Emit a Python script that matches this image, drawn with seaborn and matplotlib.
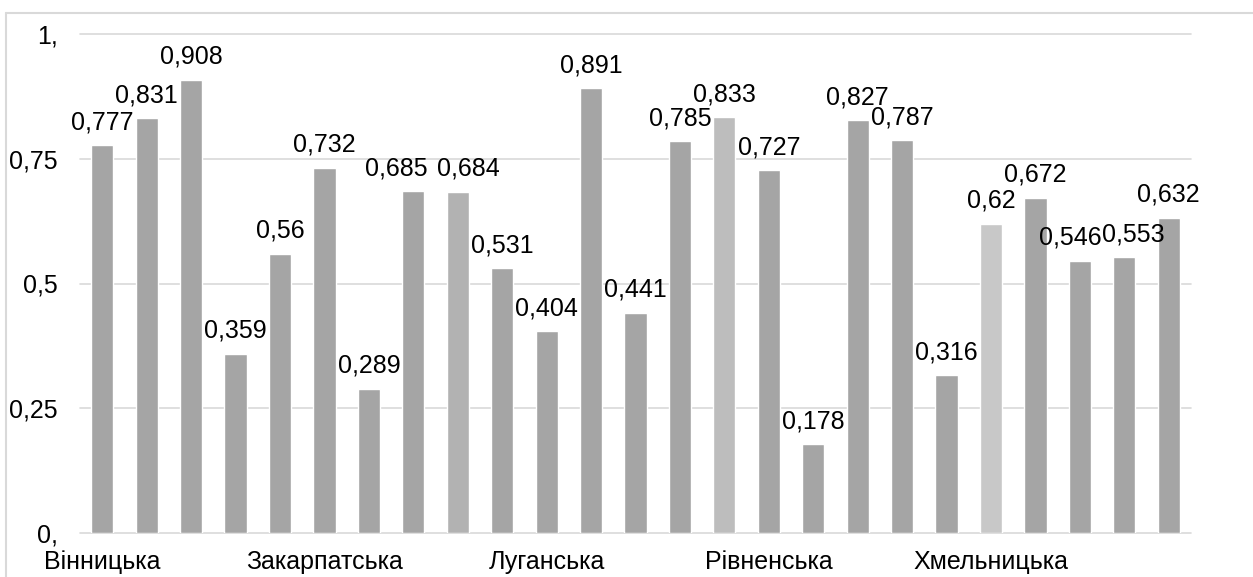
import matplotlib
matplotlib.use("Agg")
import matplotlib.pyplot as plt
import seaborn as sns
import pandas as pd
from matplotlib.lines import Line2D

regions = ["Вінницька", "Волинська", "Дніпропетровська", "Донецька", "Житомирська",
           "Закарпатська", "Запорізька", "Івано-Франківська", "Київська", "Кіровоградська",
           "Луганська", "Львівська", "Миколаївська", "Одеська", "Полтавська",
           "Рівненська", "Сумська", "Тернопільська", "Харківська", "Херсонська",
           "Хмельницька", "Черкаська", "Чернівецька", "Чернігівська", "м. Київ"]
values = [0.777, 0.831, 0.908, 0.359, 0.56, 0.732, 0.289, 0.685, 0.684, 0.531,
          0.404, 0.891, 0.441, 0.785, 0.833, 0.727, 0.178, 0.827, 0.787, 0.316,
          0.62, 0.672, 0.546, 0.553, 0.632]
value_labels = ["0,777", "0,831", "0,908", "0,359", "0,56", "0,732", "0,289", "0,685", "0,684", "0,531",
                "0,404", "0,891", "0,441", "0,785", "0,833", "0,727", "0,178", "0,827", "0,787", "0,316",
                "0,62", "0,672", "0,546", "0,553", "0,632"]
yticks = [0, 0.25, 0.5, 0.75, 1.0]
ytick_labels = ["0,", "0,25", "0,5", "0,75", "1,"]

base = "#A5A5A5"
special = {8: "#B2B2B2", 14: "#BDBDBD", 20: "#C8C8C8"}
colors = [special.get(i, base) for i in range(len(regions))]
label_dx = {7: -12.2, 8: 7.9, 22: -7.2, 23: 6.5}  # points

sns.set_theme(style="white")
plt.rcParams['font.family'] = ['Liberation Sans', 'DejaVu Sans']

df = pd.DataFrame({"region": regions, "value": values})

fig = plt.figure(figsize=(12.53, 5.77), dpi=100)
ax = fig.add_axes([80/1253, 1 - 533/577, (1191-80)/1253, (533-34)/577])

sns.barplot(data=df, x="region", y="value", hue="region", palette=colors,
            order=regions, hue_order=regions, legend=False, width=0.5,
            saturation=1, ax=ax, zorder=3)

ax.set_xlim(-0.5, len(regions) - 0.5)
ax.set_ylim(0, 1)
for s in ax.spines.values():
    s.set_visible(False)
for y in yticks:
    ax.axhline(y, color="#D9D9D9", lw=1.2, zorder=1, clip_on=False)

ax.set_yticks(yticks)
ax.set_yticklabels(ytick_labels)
shown = [regions[i] if i % 5 == 0 else "" for i in range(len(regions))]
ax.set_xticks(range(len(regions)))
ax.set_xticklabels(shown)
ax.tick_params(axis="y", length=0, pad=16, labelsize=18, colors="#000000")
ax.tick_params(axis="x", length=0, pad=12, labelsize=18, colors="#000000")
ax.set_xlabel("")
ax.set_ylabel("")

for i, (v, lab) in enumerate(zip(values, value_labels)):
    ax.annotate(lab, (i, v), xytext=(label_dx.get(i, 0), 11.5), textcoords="offset points",
                ha="center", va="baseline", fontsize=18, color="#000000", zorder=4)

# chart border (top and left visible)
fig.add_artist(Line2D([6/1253, 6/1253], [0, 1 - 13/577], transform=fig.transFigure,
                      color="#D9D9D9", lw=1.5))
fig.add_artist(Line2D([6/1253, 1], [1 - 13/577, 1 - 13/577], transform=fig.transFigure,
                      color="#D9D9D9", lw=1.5))

fig.savefig("out.png", dpi=100)
